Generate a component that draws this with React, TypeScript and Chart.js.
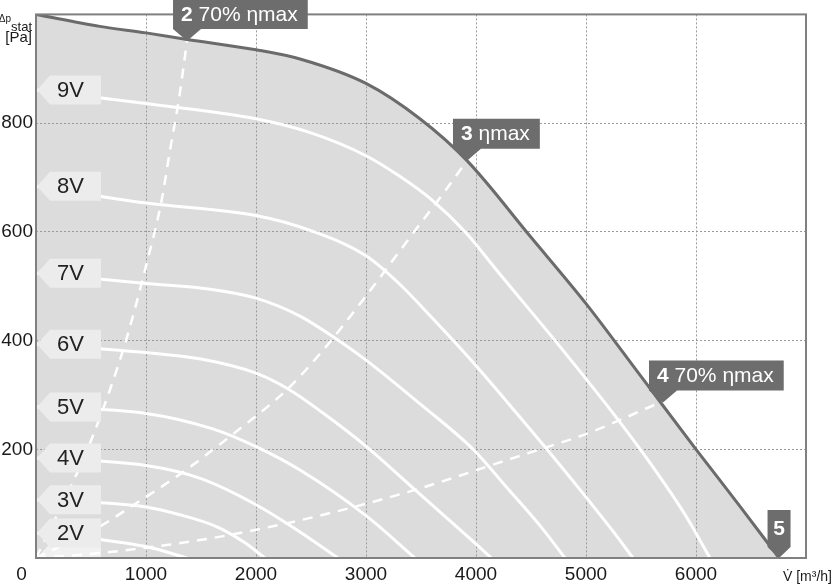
import React, { useEffect, useRef } from 'react';
import { Chart, registerables } from 'chart.js';

Chart.register(...registerables);

const FONT = '"Liberation Sans", Arial, Helvetica, sans-serif';

// Maximum fan curve (upper boundary of the grey field)
const maxV = [0, 580, 1000, 1373, 2000, 2400, 3000, 3490, 3918, 4500, 5000, 5500, 6000, 6400, 6755];
const maxP = [1000, 978, 966, 954, 935, 918, 873, 808, 731, 590, 468, 334, 200, 95, 0];

// Speed curves (control voltage)
const v9 = [0, 1000, 2000, 2500, 3000, 3300, 3609, 3900, 4218, 4791, 5282, 5600, 5900, 6127];
const p9 = [861, 836, 808, 782, 740, 703, 657, 600, 522, 382, 257, 170, 80, 0];
const v8 = [0, 1000, 2000, 2500, 3000, 3300, 3609, 3950, 4300, 4645, 5000, 5250, 5427];
const p8 = [684, 653, 630, 602, 556, 505, 440, 365, 283, 200, 112, 48, 0];
const v7 = [0, 1000, 1600, 2000, 2400, 2700, 3000, 3500, 3973, 4300, 4600, 4809];
const p7 = [524, 505, 494, 478, 445, 407, 364, 282, 200, 125, 55, 0];
const v6 = [0, 1000, 1500, 2000, 2300, 2600, 3009, 3464, 3800, 4140];
const p6 = [393, 378, 366, 340, 310, 268, 204, 122, 62, 0];
const v5 = [0, 1000, 1600, 2000, 2400, 3000, 3445];
const p5 = [278, 266, 238, 205, 162, 78, 0];
const v4 = [0, 1000, 1500, 2000, 2400, 2745];
const p4 = [184, 170, 146, 98, 48, 0];
const v3 = [0, 1000, 1300, 1650, 1900, 2080];
const p3 = [107, 94, 80, 57, 28, 0];
const v2 = [0, 580, 1000, 1373];
const p2 = [46, 34, 21, 0];

const speedLabels = ['9V', '8V', '7V', '6V', '5V', '4V', '3V', '2V'];
const speedV = [v9, v8, v7, v6, v5, v4, v3, v2];
const speedP = [p9, p8, p7, p6, p5, p4, p3, p2];

// System curves (dashed)
const sysV2 = [0, 373, 491, 800, 1000, 1142, 1218, 1300, 1373];
const sysP2 = [0, 156, 211, 388, 537, 658, 750, 845, 951];
const sysV3 = [0, 580, 882, 1336, 1791, 2282, 2600, 3000, 3400, 3700, 3918];
const sysP3 = [0, 58, 97, 158, 228, 310, 380, 482, 590, 670, 731];
const sysV4 = [0, 580, 1491, 2100, 2700, 3491, 4218, 4645, 5000, 5650];
const sysP4 = [0, 9, 33, 56, 84, 128, 176, 204, 228, 284];

// Operating point tags
const opNums = ['2', '3', '4', '5'];
const opTexts = ['70% ηmax', 'ηmax', '70% ηmax', ''];
const opV = [1373, 3918, 5700, 6755];
const opP = [951, 731, 286, 0];

const ghostP = 0;

const xTitle = 'V̇ [m³/h]';
const yTitleMain = 'Δp';
const yTitleSub = 'stat';
const yTitleUnit = '[Pa]';
const cornerLabel = '0';

function pts(vs: number[], ps: number[]) {
  return vs.map((v, i) => ({ x: v, y: ps[i] }));
}

function speedTagPath(ctx: CanvasRenderingContext2D, x0: number, cy: number) {
  const h = 14.5;
  ctx.beginPath();
  ctx.moveTo(x0 + 1, cy);
  ctx.lineTo(x0 + 14, cy - h);
  ctx.lineTo(x0 + 65, cy - h);
  ctx.lineTo(x0 + 65, cy + h);
  ctx.lineTo(x0 + 14, cy + h);
  ctx.closePath();
}

const overlay = {
  id: 'overlay',
  beforeDatasetsDraw(chart: any) {
    const { ctx, chartArea: a, scales } = chart;
    const cy = scales.y.getPixelForValue(ghostP);
    ctx.save();
    ctx.beginPath();
    ctx.rect(a.left, a.top, a.right - a.left, a.bottom - a.top);
    ctx.clip();
    speedTagPath(ctx, a.left, cy);
    ctx.fillStyle = 'rgba(246,246,246,0.8)';
    ctx.fill();
    ctx.restore();
  },
  afterDatasetsDraw(chart: any) {
    const { ctx, chartArea: a, scales } = chart;
    const x = scales.x;
    const y = scales.y;
    ctx.save();
    // frame
    ctx.strokeStyle = '#808080';
    ctx.lineWidth = 2;
    ctx.strokeRect(a.left, a.top, a.right - a.left, a.bottom - a.top);

    // speed tags
    speedLabels.forEach((lab, i) => {
      const cy = y.getPixelForValue(speedP[i][0]);
      speedTagPath(ctx, a.left, cy);
      ctx.fillStyle = '#ececec';
      ctx.fill();
      ctx.fillStyle = '#222';
      ctx.font = `22px ${FONT}`;
      ctx.textAlign = 'left';
      ctx.textBaseline = 'middle';
      ctx.fillText(lab, a.left + 21, cy + 1);
    });

    // operating point tags
    opNums.forEach((num, i) => {
      const tx = x.getPixelForValue(opV[i]);
      const ty = y.getPixelForValue(opP[i]);
      const text = opTexts[i];
      ctx.font = `bold 21px ${FONT}`;
      const wn = ctx.measureText(num).width;
      ctx.font = `21px ${FONT}`;
      const wt = text ? ctx.measureText(' ' + text).width : 0;
      let left, w, h, ph, pw;
      if (text) {
        w = wn + wt + 18; h = 30; ph = 12; left = tx - 14; pw = 28;
      } else {
        w = 23; h = 37; ph = 11; left = tx - 11.5; pw = 23;
      }
      const bottom = ty - ph;
      const top = bottom - h;
      ctx.beginPath();
      ctx.moveTo(left, top);
      ctx.lineTo(left + w, top);
      ctx.lineTo(left + w, bottom);
      ctx.lineTo(left + pw, bottom);
      ctx.lineTo(tx, ty);
      ctx.lineTo(left, bottom);
      ctx.closePath();
      ctx.fillStyle = '#6d6d6d';
      ctx.fill();
      ctx.fillStyle = '#fff';
      ctx.textAlign = 'left';
      ctx.textBaseline = 'middle';
      const sx = text ? left + 8 : left + (w - wn) / 2;
      const sy = top + h / 2 + 1;
      ctx.font = `bold 21px ${FONT}`;
      ctx.fillText(num, sx, sy);
      if (text) {
        ctx.font = `21px ${FONT}`;
        ctx.fillText(' ' + text, sx + wn, sy);
      }
    });
    ctx.restore();
  },
  afterDraw(chart: any) {
    const { ctx, chartArea: a } = chart;
    ctx.save();
    ctx.fillStyle = '#1a1a1a';
    // corner "0"
    ctx.font = `19px ${FONT}`;
    ctx.textAlign = 'center';
    ctx.textBaseline = 'middle';
    ctx.fillText(cornerLabel, 21.5, a.bottom + 17);
    // x title
    ctx.font = `14px ${FONT}`;
    ctx.textAlign = 'right';
    ctx.textBaseline = 'alphabetic';
    ctx.fillText(xTitle, 832, 581);
    // y title
    ctx.textAlign = 'right';
    ctx.font = `13px ${FONT}`;
    ctx.fillText(yTitleSub, 32, 31);
    const ws = ctx.measureText(yTitleSub).width;
    ctx.font = `10px ${FONT}`;
    ctx.fillText(yTitleMain, 32 - ws, 22);
    ctx.font = `15px ${FONT}`;
    ctx.fillText(yTitleUnit, 32, 42);
    ctx.restore();
  },
};

export default function App() {
  const ref = useRef<HTMLCanvasElement>(null);
  useEffect(() => {
    const white = '#ffffff';
    const datasets: any[] = [
      {
        data: pts(maxV, maxP),
        borderColor: '#6b6b6b',
        borderWidth: 3,
        backgroundColor: '#dcdcdc',
        fill: 'origin',
      },
      ...[ [sysV2, sysP2], [sysV3, sysP3], [sysV4, sysP4] ].map(([vs, ps]) => ({
        data: pts(vs, ps),
        borderColor: white,
        borderWidth: 2.5,
        borderDash: [10, 8],
        fill: false,
      })),
      ...speedV.map((vs, i) => ({
        data: pts(vs, speedP[i]),
        borderColor: white,
        borderWidth: 3,
        fill: false,
      })),
    ];
    const tickFont = { size: 19, family: FONT };
    const chart = new Chart(ref.current as HTMLCanvasElement, {
      type: 'line',
      data: { datasets },
      plugins: [overlay],
      options: {
        responsive: false,
        animation: false,
        devicePixelRatio: 1,
        layout: { padding: { top: 14, right: 27, left: 0, bottom: 0 } },
        plugins: {
          legend: { display: false },
          tooltip: { enabled: false },
          filler: { drawTime: 'beforeDraw' },
        } as any,
        elements: {
          point: { radius: 0 },
          line: { cubicInterpolationMode: 'monotone' },
        },
        scales: {
          x: {
            type: 'linear',
            min: 0,
            max: 7000,
            ticks: {
              stepSize: 1000,
              autoSkip: false,
              maxRotation: 0,
              padding: 5,
              color: '#1a1a1a',
              font: tickFont,
              callback: (v: any) => (v === 0 || v === 7000 ? '' : String(v)),
            },
            grid: { color: '#9a9a9a', lineWidth: 1, drawTicks: false },
            border: { display: false, dash: [2, 2] },
            afterFit: (s: any) => { s.height = 27; },
          },
          y: {
            type: 'linear',
            min: 0,
            max: 1000,
            ticks: {
              stepSize: 200,
              padding: 3,
              color: '#1a1a1a',
              font: tickFont,
              callback: (v: any) => (v === 0 || v === 1000 ? '' : String(v)),
            },
            grid: { color: '#9a9a9a', lineWidth: 1, drawTicks: false },
            border: { display: false, dash: [2, 2] },
            afterFit: (s: any) => { s.width = 36; },
          },
        },
      } as any,
    });
    return () => chart.destroy();
  }, []);
  return (
    <div style={{ position: 'fixed', left: 0, top: 0, width: 833, height: 585, background: '#fff' }}>
      <canvas ref={ref} width={833} height={585} style={{ display: 'block', width: 833, height: 585 }} />
    </div>
  );
}
